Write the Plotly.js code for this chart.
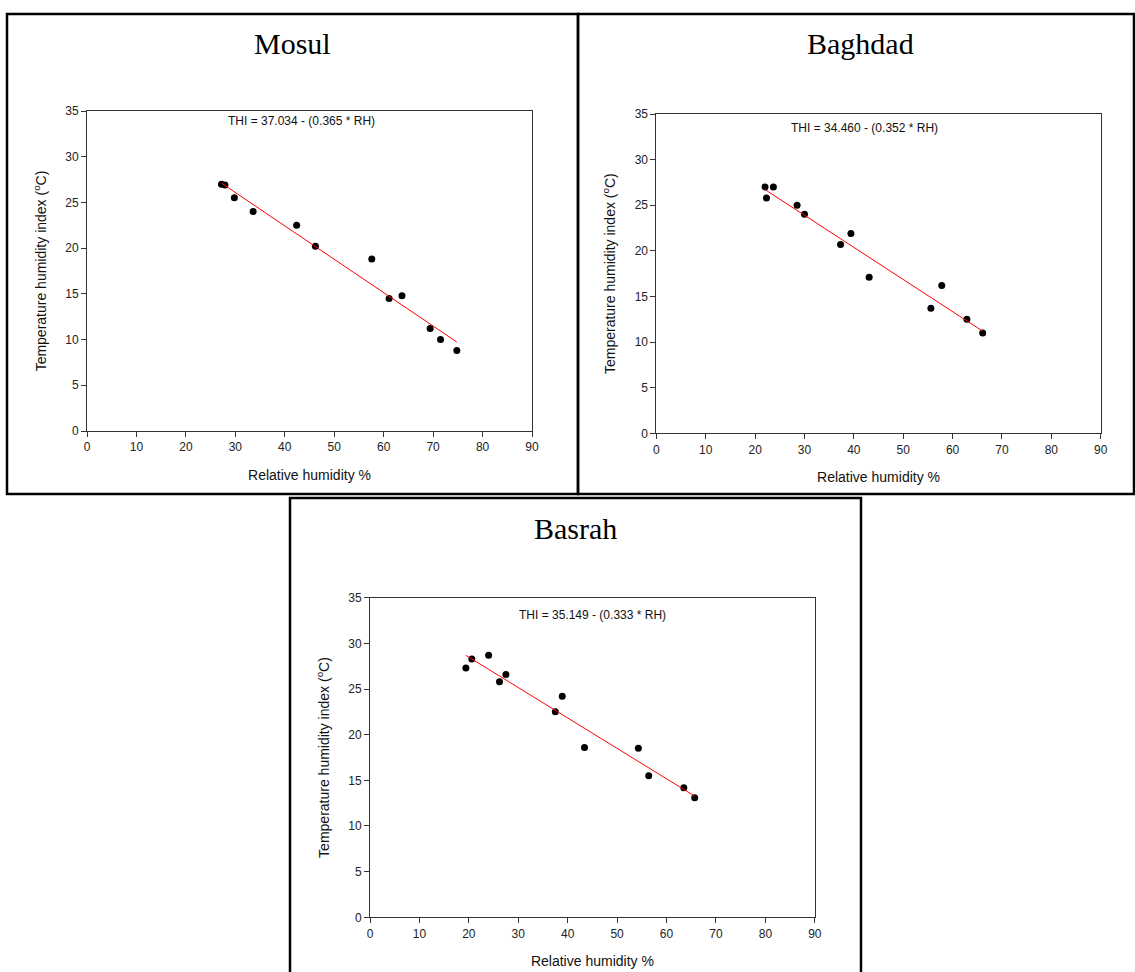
<!DOCTYPE html>
<html>
<head>
<meta charset="utf-8">
<script src="https://cdn.plot.ly/plotly-3.0.1.min.js"></script>
<style>
  html, body { margin: 0; padding: 0; background: #ffffff; }
  #chart { width: 1135px; height: 972px; }
</style>
</head>
<body>
<div id="chart"></div>
<script>
// Station names
const stations = ['Mosul', 'Baghdad', 'Basrah'];

// Monthly relative humidity (%) and temperature humidity index (°C) per station
const mosulRH  = [27.2, 27.9, 29.8, 33.6, 42.4, 46.2, 57.6, 61.1, 63.7, 69.4, 71.5, 74.8];
const mosulTHI = [27.0, 26.9, 25.5, 24.0, 22.5, 20.2, 18.8, 14.5, 14.8, 11.2, 10.0, 8.8];

const baghdadRH  = [22.0, 23.7, 22.3, 28.5, 30.0, 37.3, 39.4, 43.1, 55.6, 57.8, 62.9, 66.1];
const baghdadTHI = [27.0, 27.0, 25.8, 25.0, 24.0, 20.7, 21.9, 17.1, 13.7, 16.2, 12.5, 11.0];

const basrahRH  = [19.4, 20.6, 24.0, 26.2, 27.5, 37.5, 38.9, 43.4, 54.3, 56.4, 63.5, 65.7];
const basrahTHI = [27.3, 28.3, 28.7, 25.8, 26.6, 22.5, 24.2, 18.6, 18.5, 15.5, 14.2, 13.1];

// Fitted regression: THI = intercept - (slope * RH)
const intercepts = [37.034, 34.460, 35.149];
const slopes     = [0.365, 0.352, 0.333];

// Tick values
const xTicks = [0, 10, 20, 30, 40, 50, 60, 70, 80, 90];
const yTicks = [0, 5, 10, 15, 20, 25, 30, 35];

const rhSeries  = [mosulRH, baghdadRH, basrahRH];
const thiSeries = [mosulTHI, baghdadTHI, basrahTHI];

const W = 1135, H = 972;
const px = v => v / W;           // horizontal pixel -> paper
const py = v => 1 - v / H;       // vertical pixel -> paper

// Plot boxes in pixels: [left, top, right, bottom]
const boxes = [
  [87, 111, 532, 431],
  [656.4, 114, 1100.7, 433.3],
  [370, 597.7, 814.8, 917.3]
];
// Panel frames in pixels: [left, top, right, bottom]
const frames = [
  [7, 14, 578, 494],
  [578, 14, 1134, 494],
  [290, 498, 861, 990]
];
// Panel title centres in pixels
const titlePos = [[292.5, 43], [860.7, 43], [575, 528]];
// Equation label positions in data units
const eqPos = [[43.4, 33.9], [42.1, 33.5], [45.1, 33.1]];

const FONT = 'Liberation Sans, Arial, sans-serif';
const SERIF = 'Liberation Serif, Times New Roman, serif';

const traces = [];
const layout = {
  width: W, height: H,
  margin: {l: 0, r: 0, t: 0, b: 0},
  paper_bgcolor: '#ffffff',
  plot_bgcolor: '#ffffff',
  showlegend: false,
  shapes: [],
  annotations: []
};

stations.forEach((name, i) => {
  const ax = i === 0 ? '' : String(i + 1);
  const xa = 'x' + ax, ya = 'y' + ax;
  const rh = rhSeries[i], thi = thiSeries[i];

  traces.push({
    type: 'scatter', mode: 'markers',
    x: rh, y: thi, xaxis: xa, yaxis: ya,
    marker: {color: '#000000', size: 7},
    hoverinfo: 'skip'
  });

  const lo = Math.min(...rh), hi = Math.max(...rh);
  traces.push({
    type: 'scatter', mode: 'lines',
    x: [lo, hi],
    y: [intercepts[i] - slopes[i] * lo, intercepts[i] - slopes[i] * hi],
    xaxis: xa, yaxis: ya,
    line: {color: '#ff0000', width: 1},
    hoverinfo: 'skip'
  });

  const b = boxes[i];
  const axCommon = {
    showgrid: false, zeroline: false,
    showline: true, linecolor: '#333333', linewidth: 1, mirror: true,
    ticks: 'outside', ticklen: 5, tickcolor: '#333333', tickwidth: 1,
    tickfont: {family: FONT, size: 12, color: '#222222'},
    fixedrange: true
  };
  layout['xaxis' + ax] = Object.assign({}, axCommon, {
    domain: [px(b[0]), px(b[2])],
    range: [0, 90], tickvals: xTicks,
    anchor: ya,
    title: {text: 'Relative humidity %', font: {family: FONT, size: 14, color: '#111111'}, standoff: 16}
  });
  layout['yaxis' + ax] = Object.assign({}, axCommon, {
    domain: [py(b[3]), py(b[1])],
    range: [0, 35], tickvals: yTicks,
    anchor: xa,
    title: {text: 'Temperature humidity index (<sup>o</sup>C)', font: {family: FONT, size: 14, color: '#111111'}, standoff: 15}
  });

  const f = frames[i];
  layout.shapes.push({
    type: 'rect', xref: 'paper', yref: 'paper',
    x0: px(f[0]), x1: px(f[2]), y0: py(f[3]), y1: py(f[1]),
    line: {color: '#000000', width: 2.5},
    fillcolor: 'rgba(0,0,0,0)'
  });

  layout.annotations.push({
    xref: 'paper', yref: 'paper',
    x: px(titlePos[i][0]), y: py(titlePos[i][1]),
    xanchor: 'center', yanchor: 'middle',
    text: name, showarrow: false,
    font: {family: SERIF, size: 30, color: '#000000'}
  });

  layout.annotations.push({
    xref: xa, yref: ya,
    x: eqPos[i][0], y: eqPos[i][1],
    xanchor: 'center', yanchor: 'middle',
    text: 'THI = ' + intercepts[i].toFixed(3) + ' - (' + slopes[i].toFixed(3) + ' * RH)',
    showarrow: false,
    font: {family: FONT, size: 12, color: '#111111'}
  });
});

Plotly.newPlot('chart', traces, layout, {displayModeBar: false, staticPlot: true});
</script>
</body>
</html>
